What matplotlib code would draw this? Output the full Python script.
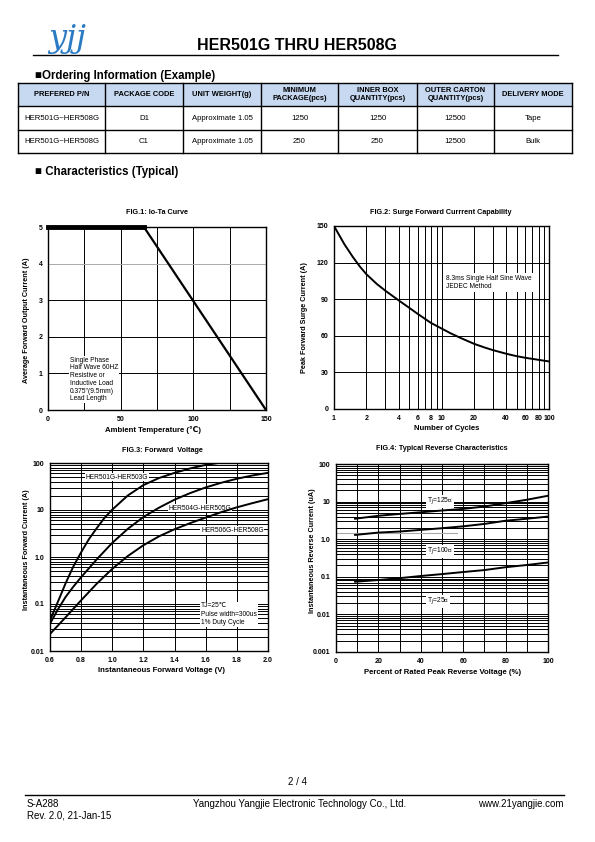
#----------------------------------
# HER501G THRU HER508G - página 2/4
#----------------------------------

import numpy as np
import matplotlib
matplotlib.use('Agg')
import matplotlib.pyplot as plt
from matplotlib.patches import Rectangle

plt.rcParams['font.family'] = ['Liberation Sans', 'DejaVu Sans']

W, H = 595, 842          # tamanho da página em pixels

#-------------------------------------------
# Dados
#-------------------------------------------

# Tabela de pedido
cabecalho = ['PREFERED P/N', 'PACKAGE CODE', 'UNIT WEIGHT(g)', 'MINIMUM\nPACKAGE(pcs)',
             'INNER BOX\nQUANTITY(pcs)', 'OUTER CARTON\nQUANTITY(pcs)', 'DELIVERY MODE']
linha_1 = ['HER501G~HER508G', 'D1', 'Approximate 1.05', '1250', '1250', '12500', 'Tape']
linha_2 = ['HER501G~HER508G', 'C1', 'Approximate 1.05', '250', '250', '12500', 'Bulk']

# FIG.1 Io-Ta
temp_a = [0, 66, 150]
io = [5, 5, 0]

# FIG.2 corrente de surto
ciclos = [1, 1.25, 1.5, 1.75, 2, 2.5, 3, 4, 5, 6, 7, 8, 10, 12, 15, 20, 25, 30, 40, 50, 60, 80, 100]
surto = [150, 135, 124.5, 116.5, 110.5, 102.5, 97, 89, 83, 78, 74, 70.5, 66, 62.3, 58.3,
         53.5, 50.5, 48.3, 45.3, 43.3, 42, 40.3, 39]

# FIG.3 tensão direta
vf_1 = [0.6, 0.65, 0.7, 0.75, 0.8, 0.85, 0.9, 0.95, 1.0, 1.1, 1.2, 1.3, 1.4, 1.5, 1.6, 1.68]
if_1 = [0.045, 0.11, 0.275, 0.63, 1.26, 2.4, 4.1, 6.8, 10.2, 20.4, 33.9, 47.9, 61.7, 76.7, 91.2, 100]
vf_2 = [0.6, 0.65, 0.7, 0.75, 0.8, 0.9, 1.0, 1.1, 1.2, 1.3, 1.4, 1.5, 1.6, 1.7, 1.8, 1.9, 2.0]
if_2 = [0.038, 0.076, 0.141, 0.234, 0.372, 0.89, 2.0, 3.98, 7.08, 11.2, 16.6, 22.9, 30.2,
        38.0, 46.2, 54.3, 61.7]
vf_3 = [0.6, 0.7, 0.8, 0.9, 1.0, 1.1, 1.2, 1.3, 1.4, 1.5, 1.6, 1.7, 1.8, 1.9, 2.0]
if_3 = [0.023, 0.052, 0.12, 0.27, 0.56, 1.05, 1.78, 2.75, 3.9, 5.25, 6.9, 9.0, 11.4, 14.0, 17]
rotulos_3 = ['HER501G-HER503G', 'HER504G-HER505G', 'HER506G-HER508G']

# FIG.4 corrente reversa
vr = [9, 20, 30, 40, 50, 60, 70, 80, 90, 100]
ir_125 = [3.5, 4.2, 4.7, 5.2, 5.8, 6.4, 7.4, 9.1, 11.2, 14.3]
ir_100 = [1.3, 1.5, 1.6, 1.77, 1.96, 2.2, 2.55, 3.1, 3.5, 4.0]
ir_25 = [0.074, 0.082, 0.092, 0.105, 0.118, 0.134, 0.151, 0.18, 0.206, 0.24]


#-------------------------------------------
# Funções auxiliares
#-------------------------------------------

def eixo(x0, y0, x1, y1):
    '''Cria um eixo a partir de uma caixa em pixels da página'''
    return fig.add_axes([x0 / W, 1 - y1 / H, (x1 - x0) / W, (y1 - y0) / H])


def estilo(ax):
    ax.set_axisbelow(True)
    ax.grid(True, which='both', color='k', lw=0.7)
    ax.tick_params(which='both', length=0, labelsize=5, pad=4)
    ax.tick_params(which='minor', labelbottom=False, labelleft=False)
    for lab in ax.get_xticklabels() + ax.get_yticklabels():
        lab.set_fontweight('bold')
    for s in ax.spines.values():
        s.set_linewidth(1.0)


fig = plt.figure(figsize=(W / 100, H / 100), dpi=100)
fundo = fig.add_axes([0, 0, 1, 1])
fundo.set_xlim(0, W)
fundo.set_ylim(H, 0)
fundo.axis('off')

#-------------------------------------------
# Cabeçalho
#-------------------------------------------
fundo.text(48, 47, 'yjj', fontsize=23, color='#2b7bc4', style='italic',
           family='DejaVu Serif', va='baseline')
fundo.text(297, 45, 'HER501G THRU HER508G', ha='center', va='center',
           fontsize=11.5, fontweight='bold')
fundo.plot([33, 558], [55, 55], color='k', lw=1)

fundo.text(35, 76, '■Ordering Information (Example)', fontsize=8.3,
           fontweight='bold', va='center')

# Tabela
col_x = [18, 105, 183, 261, 338, 417, 494, 572]
row_y = [83, 106, 130, 153]
fundo.add_patch(Rectangle((col_x[0], row_y[0]), col_x[-1] - col_x[0], row_y[1] - row_y[0],
                          fc='#c6d9f1', ec='none'))
for y in row_y:
    fundo.plot([col_x[0], col_x[-1]], [y, y], color='k', lw=1)
for x in col_x:
    fundo.plot([x, x], [row_y[0], row_y[-1]], color='k', lw=1)

for j in range(len(cabecalho)):
    xc = (col_x[j] + col_x[j + 1]) / 2
    fundo.text(xc, (row_y[0] + row_y[1]) / 2, cabecalho[j], ha='center', va='center',
               fontsize=5.4, fontweight='bold', linespacing=1.1)
    fundo.text(xc, (row_y[1] + row_y[2]) / 2, linha_1[j], ha='center', va='center', fontsize=5.6)
    fundo.text(xc, (row_y[2] + row_y[3]) / 2, linha_2[j], ha='center', va='center', fontsize=5.6)

fundo.text(35, 172, '■ Characteristics (Typical)', fontsize=8.3, fontweight='bold', va='center')

#-------------------------------------------
# FIG.1
#-------------------------------------------
ax1 = eixo(48, 227, 266, 410)
ax1.plot(temp_a, io, color='k', lw=1.6, zorder=4)
ax1.plot(temp_a[:2], io[:2], color='k', lw=3.5, zorder=4, clip_on=False)
ax1.set_xlim(0, 150)
ax1.set_ylim(0, 5)
ax1.set_xticks([0, 50, 100, 150])
ax1.set_xticks([25, 75, 125], minor=True)
ax1.set_yticks([0, 1, 2, 3, 4, 5])
estilo(ax1)
ax1.yaxis.get_gridlines()[4].set_color('#aaaaaa')
ax1.text(15, 1.46, 'Single Phase\nHalf Wave 60HZ\nResistive or\nInductive Load\n0.375"(9.5mm)\nLead Length',
         fontsize=4.8, va='top', linespacing=1.15,
         bbox=dict(fc='white', ec='none', pad=0.5))
fundo.text(157, 213, 'FIG.1: Io-Ta Curve', ha='center', va='center', fontsize=5.2, fontweight='bold')
fundo.text(153, 430, 'Ambient Temperature (℃)', ha='center', va='center', fontsize=5.6, fontweight='bold')
fundo.text(27, 320, 'Average Forward Output Current (A)', ha='center', va='center',
           rotation=90, fontsize=5.2, fontweight='bold')

#-------------------------------------------
# FIG.2
#-------------------------------------------
ax2 = eixo(334, 226, 549, 409)
ax2.plot(ciclos, surto, color='k', lw=1.4, zorder=4)
ax2.set_xscale('log')
ax2.set_xlim(1, 100)
ax2.set_ylim(0, 150)
ax2.set_xticks([1, 2, 4, 6, 8, 10, 20, 40, 60, 80, 100])
ax2.set_xticklabels(['1', '2', '4', '6', '8', '10', '20', '40', '60', '80', '100'])
ax2.set_xticks([3, 5, 7, 9, 30, 50, 70, 90], minor=True)
ax2.set_yticks([0, 30, 60, 90, 120, 150])
estilo(ax2)
ax2.text(11, 103.5, '8.3ms Single Half Sine Wave\nJEDEC Method', fontsize=4.8, va='center',
         linespacing=1.2, bbox=dict(fc='white', ec='none', pad=1.5))
fundo.text(441, 212, 'FIG.2: Surge Forward Currrent Capability', ha='center', va='center',
           fontsize=5.2, fontweight='bold')
fundo.text(447, 429, 'Number of Cycles', ha='center', va='center', fontsize=5.6, fontweight='bold')
fundo.text(305, 318, 'Peak Forward Surge Current (A)', ha='center', va='center',
           rotation=90, fontsize=5.2, fontweight='bold')

#-------------------------------------------
# FIG.3
#-------------------------------------------
ax3 = eixo(50, 463, 268, 651)
ax3.plot(vf_1, if_1, color='k', lw=1.4, zorder=4)
ax3.plot(vf_2, if_2, color='k', lw=1.4, zorder=4)
ax3.plot(vf_3, if_3, color='k', lw=1.4, zorder=4)
ax3.set_yscale('log')
ax3.set_xlim(0.6, 2.0)
ax3.set_ylim(0.01, 100)
ax3.set_xticks(np.arange(0.6, 2.01, 0.2))
ax3.set_xticklabels(['0.6', '0.8', '1.0', '1.2', '1.4', '1.6', '1.8', '2.0'])
ax3.set_yticks([0.01, 0.1, 1, 10, 100])
ax3.set_yticklabels(['0.01', '0.1', '1.0', '10', '100'])
ax3.set_yticks([m * 10.0 ** d for d in range(-2, 2) for m in range(2, 10)], minor=True)
estilo(ax3)
caixa = dict(fc='white', ec='none', pad=0.6)
ax3.text(0.83, 50, rotulos_3[0], fontsize=4.8, va='center', bbox=caixa)
ax3.text(1.36, 11, rotulos_3[1], fontsize=4.8, va='center', bbox=caixa)
ax3.text(1.57, 3.7, rotulos_3[2], fontsize=4.8, va='center', bbox=caixa)
ax3.text(1.57, 0.06, 'TJ=25℃\nPulse width=300us\n1% Duty Cycle', fontsize=4.8, va='center',
         linespacing=1.3, bbox=caixa)
fundo.text(162, 451, 'FIG.3: Forward  Voltage', ha='center', va='center', fontsize=5.2, fontweight='bold')
fundo.text(162, 671, 'Instantaneous Forward Voltage (V)', ha='center', va='center',
           fontsize=5.6, fontweight='bold')
fundo.text(27, 550, 'Instantaneous Forward Current (A)', ha='center', va='center',
           rotation=90, fontsize=5.2, fontweight='bold')

#-------------------------------------------
# FIG.4
#-------------------------------------------
ax4 = eixo(336, 464, 548, 652)
ax4.plot(vr, ir_125, color='k', lw=1.4, zorder=4)
ax4.plot(vr, ir_100, color='k', lw=1.4, zorder=4)
ax4.plot(vr, ir_25, color='k', lw=1.4, zorder=4)
ax4.set_yscale('log')
ax4.set_xlim(0, 100)
ax4.set_ylim(0.001, 100)
ax4.set_xticks([0, 20, 40, 60, 80, 100])
ax4.set_xticks([10, 30, 50, 70, 90], minor=True)
ax4.set_yticks([0.001, 0.01, 0.1, 1, 10, 100])
ax4.set_yticklabels(['0.001', '0.01', '0.1', '1.0', '10', '100'])
ax4.set_yticks([m * 10.0 ** d for d in range(-3, 2) for m in range(2, 10)], minor=True)
estilo(ax4)
ax4.axhline(1.5, xmax=0.57, color='#aaaaaa', lw=0.8, zorder=2)
ax4.text(49, 10, 'T$_J$=125℃', fontsize=4.8, ha='center', va='center', bbox=caixa)
ax4.text(49, 0.47, 'T$_J$=100℃', fontsize=4.8, ha='center', va='center', bbox=caixa)
ax4.text(48, 0.022, 'T$_J$=25℃', fontsize=4.8, ha='center', va='center', bbox=caixa)
fundo.text(442, 449, 'FIG.4: Typical Reverse Characteristics', ha='center', va='center',
           fontsize=5.2, fontweight='bold')
fundo.text(443, 672, 'Percent of Rated Peak Reverse Voltage (%)', ha='center', va='center',
           fontsize=5.6, fontweight='bold')
fundo.text(313, 551, 'Instantaneous Reverse Current (uA)', ha='center', va='center',
           rotation=90, fontsize=5.2, fontweight='bold')

#-------------------------------------------
# Rodapé
#-------------------------------------------
fundo.text(297, 782, '2 / 4', ha='center', va='center', fontsize=7)
fundo.plot([25, 564], [795, 795], color='k', lw=1)
fundo.text(27, 804, 'S-A288', va='center', fontsize=7)
fundo.text(27, 816, 'Rev. 2.0, 21-Jan-15', va='center', fontsize=7)
fundo.text(300, 804, 'Yangzhou Yangjie Electronic Technology Co., Ltd.', ha='center', va='center', fontsize=7)
fundo.text(564, 804, 'www.21yangjie.com', ha='right', va='center', fontsize=7)

fig.savefig('out.png', dpi=100)
